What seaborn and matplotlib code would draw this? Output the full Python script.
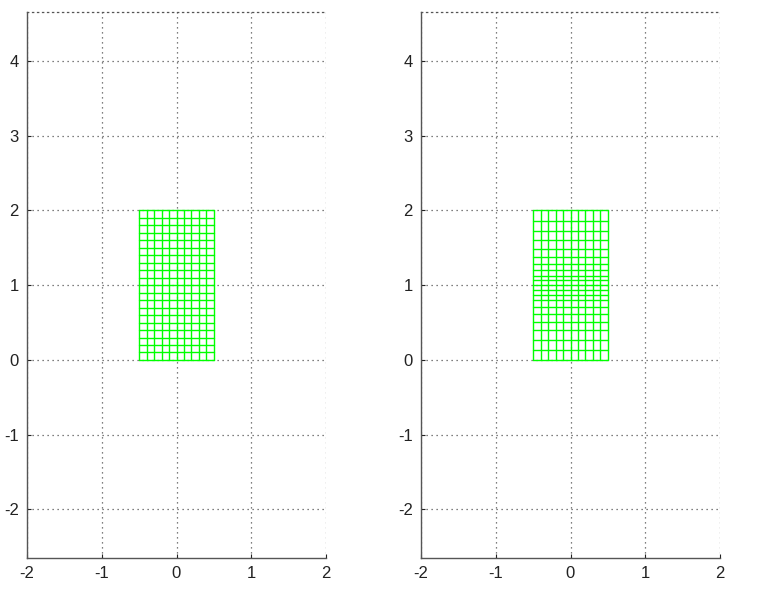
import numpy as np
import pandas as pd
import matplotlib
matplotlib.use("Agg")
import matplotlib.pyplot as plt
import seaborn as sns

# mesh node coordinates
x_nodes = [-0.5, -0.4, -0.3, -0.2, -0.1, 0.0, 0.1, 0.2, 0.3, 0.4, 0.5]
y_nodes_left = [0.0, 0.1, 0.2, 0.3, 0.4, 0.5, 0.6, 0.7, 0.8, 0.9, 1.0,
                1.1, 1.2, 1.3, 1.4, 1.5, 1.6, 1.7, 1.8, 1.9, 2.0]
y_nodes_right = [0.0, 0.137, 0.271, 0.397, 0.514, 0.62, 0.714, 0.797, 0.871, 0.937, 1.0,
                 1.063, 1.129, 1.203, 1.286, 1.38, 1.486, 1.603, 1.729, 1.863, 2.0]
x_ticks = [-2, -1, 0, 1, 2]
y_ticks = [-2, -1, 0, 1, 2, 3, 4]
x_lim = (-2, 2)
y_lim = (-2.65, 4.655)

sns.set_style("white")
plt.rcParams['font.family'] = ['Liberation Sans', 'DejaVu Sans']

fig = plt.figure(figsize=(7.59, 6.0), dpi=100)


def mesh_frame(xs, ys):
    rows = []
    uid = 0
    for x in xs:
        for y in ys:
            rows.append(dict(x=x, y=y, line=uid))
        uid += 1
    for y in ys:
        for x in xs:
            rows.append(dict(x=x, y=y, line=uid))
        uid += 1
    return pd.DataFrame(rows)


def draw(ax, ys):
    df = mesh_frame(x_nodes, ys)
    sns.lineplot(data=df, x="x", y="y", units="line", estimator=None, sort=False,
                 color="#00ff00", linewidth=1.0, ax=ax, legend=False)
    ax.set_xlim(*x_lim)
    ax.set_ylim(*y_lim)
    ax.set_xticks(x_ticks)
    ax.set_yticks(y_ticks)
    ax.set_xticklabels([str(v) for v in x_ticks])
    ax.set_yticklabels([str(v) for v in y_ticks])
    ax.set_xlabel("")
    ax.set_ylabel("")
    ax.grid(True, linestyle=(0, (1, 3)), color="#555555", linewidth=0.9)
    ax.set_axisbelow(True)
    ax.tick_params(direction="in", length=3, labelsize=12, colors="#222222",
                   width=0.8, bottom=True, left=True, pad=6)
    for s in ["left", "bottom"]:
        ax.spines[s].set_color("#555555")
        ax.spines[s].set_linewidth(1.0)
        ax.spines[s].set_visible(True)
    ax.spines["right"].set_visible(False)
    ax.spines["top"].set_visible(True)
    ax.spines["top"].set_linestyle((0, (1, 3)))
    ax.spines["top"].set_color("#555555")
    ax.spines["top"].set_linewidth(0.9)


ax1 = fig.add_axes([27 / 759, 1 - 558 / 600, 299 / 759, 546 / 600])
ax2 = fig.add_axes([421 / 759, 1 - 558 / 600, 299 / 759, 546 / 600])
draw(ax1, y_nodes_left)
draw(ax2, y_nodes_right)

fig.savefig("out.png", dpi=100)
